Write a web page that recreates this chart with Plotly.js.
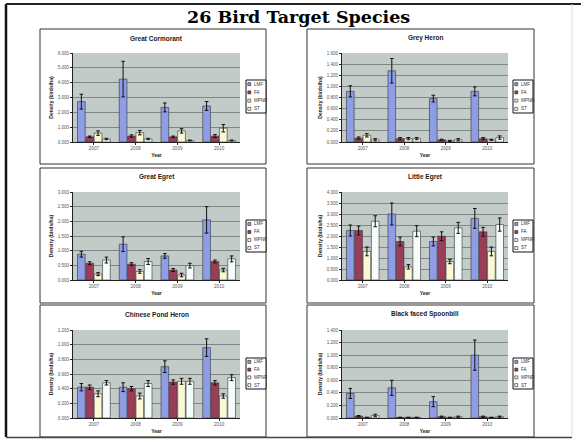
<!DOCTYPE html>
<html>
<head>
<meta charset="utf-8">
<script src="https://cdn.plot.ly/plotly-3.0.1.min.js"></script>
<style>
html,body{margin:0;padding:0;background:#fff;}
#chart{width:581px;height:440px;}
</style>
</head>
<body>
<div id="chart"></div>
<script>
// ---------------- DATA ----------------
const mainTitle = "26 Bird Target Species";
const years = ["2007", "2008", "2009", "2010"];
const seriesNames = ["LMF", "FA", "MPNR", "ST"];
const speciesNames = ["Great Cormorant", "Grey Heron", "Great Egret", "Little Egret", "Chinese Pond Heron", "Black faced Spoonbill"];
const yAxisLabel = "Density (birds/ha)";
const xAxisLabel = "Year";

// values per series: [LMF, FA, MPNR, ST], one entry per year
const cormorantValues = [[2.72, 4.24, 2.33, 2.43], [0.35, 0.40, 0.35, 0.40], [0.60, 0.63, 0.75, 0.93], [0.20, 0.20, 0.10, 0.10]];
const cormorantErrors = [[0.50, 1.20, 0.30, 0.30], [0.05, 0.08, 0.05, 0.10], [0.15, 0.15, 0.15, 0.25], [0.05, 0.05, 0.03, 0.03]];

const greyHeronValues = [[0.91, 1.28, 0.78, 0.91], [0.07, 0.06, 0.04, 0.06], [0.12, 0.06, 0.02, 0.04], [0.04, 0.06, 0.04, 0.08]];
const greyHeronErrors = [[0.10, 0.22, 0.06, 0.08], [0.02, 0.02, 0.01, 0.02], [0.03, 0.02, 0.01, 0.01], [0.02, 0.02, 0.02, 0.03]];

const greatEgretValues = [[0.88, 1.22, 0.82, 2.05], [0.57, 0.54, 0.34, 0.63], [0.20, 0.29, 0.17, 0.34], [0.68, 0.63, 0.49, 0.72]];
const greatEgretErrors = [[0.10, 0.25, 0.08, 0.45], [0.05, 0.05, 0.05, 0.05], [0.05, 0.06, 0.06, 0.06], [0.10, 0.10, 0.08, 0.10]];

const littleEgretValues = [[2.25, 3.00, 1.75, 2.80], [2.25, 1.75, 1.99, 2.19], [1.30, 0.60, 0.84, 1.30], [2.67, 2.22, 2.37, 2.52]];
const littleEgretErrors = [[0.25, 0.50, 0.20, 0.45], [0.20, 0.20, 0.20, 0.20], [0.20, 0.10, 0.10, 0.20], [0.25, 0.25, 0.25, 0.30]];

const pondHeronValues = [[0.42, 0.42, 0.70, 0.96], [0.42, 0.40, 0.49, 0.48], [0.33, 0.30, 0.50, 0.30], [0.48, 0.47, 0.50, 0.55]];
const pondHeronErrors = [[0.05, 0.06, 0.08, 0.12], [0.03, 0.03, 0.03, 0.03], [0.04, 0.04, 0.04, 0.03], [0.03, 0.04, 0.04, 0.04]];

const spoonbillValues = [[0.39, 0.48, 0.26, 1.00], [0.03, 0.01, 0.02, 0.02], [0.01, 0.01, 0.01, 0.01], [0.04, 0.01, 0.02, 0.02]];
const spoonbillErrors = [[0.08, 0.12, 0.08, 0.24], [0.01, 0.00, 0.01, 0.01], [0.00, 0.00, 0.00, 0.00], [0.02, 0.00, 0.01, 0.01]];

const yMaxima = [6, 1.6, 3, 4, 1.2, 1.4];
const yTickSteps = [1, 0.2, 0.5, 0.5, 0.2, 0.2];

// ---------------- STYLE / LAYOUT ----------------
const allValues = [cormorantValues, greyHeronValues, greatEgretValues, littleEgretValues, pondHeronValues, spoonbillValues];
const allErrors = [cormorantErrors, greyHeronErrors, greatEgretErrors, littleEgretErrors, pondHeronErrors, spoonbillErrors];
const seriesColors = ["#8e9de6", "#9a3d56", "#fbf8d6", "#f6fcfc"];

const W = 581, H = 440;
const fx = x => x / W;
const fy = y => 1 - y / H;

const plotCols = [[73, 240], [342, 508]];
const plotRows = [[53, 142], [192, 280], [330, 418]];
const frameCols = [[40, 266], [307, 534]];
const frameRows = [[29, 164], [168, 303], [305, 437]];
const legCols = [[246, 266], [513, 533]];
const legRows = [[80, 113], [220, 252], [358, 389]];
const titleRows = [38, 177, 314];

const tickFont = {family: "Liberation Sans, Arial, sans-serif", size: 4.5, color: "#555"};
const labelFont = {family: "Liberation Sans, Arial, sans-serif", size: 5, color: "#222", weight: "bold"};

const traces = [];
const shapes = [];
const annotations = [];
const layout = {
  width: W, height: H,
  margin: {l: 0, r: 0, t: 0, b: 0},
  paper_bgcolor: "#ffffff",
  plot_bgcolor: "#c3cbc9",
  barmode: "group",
  bargap: 0.2,
  bargroupgap: 0.08,
  showlegend: false,
  shapes: shapes,
  annotations: annotations
};

// slide frame
shapes.push({type: "line", xref: "paper", yref: "paper", x0: fx(6), x1: fx(6), y0: fy(4), y1: fy(437), line: {color: "#111", width: 2.5}});
shapes.push({type: "line", xref: "paper", yref: "paper", x0: fx(6), x1: fx(581), y0: fy(4), y1: fy(4), line: {color: "#222", width: 2}});
shapes.push({type: "line", xref: "paper", yref: "paper", x0: fx(6), x1: fx(572), y0: fy(437.5), y1: fy(437.5), line: {color: "#444", width: 1.5}});
shapes.push({type: "line", xref: "paper", yref: "paper", x0: fx(572), x1: fx(572), y0: fy(4), y1: fy(437), line: {color: "#ddd", width: 1}});

annotations.push({
  text: mainTitle, xref: "paper", yref: "paper", x: fx(298), y: fy(17),
  xanchor: "center", yanchor: "middle", showarrow: false,
  font: {family: "DejaVu Serif, serif", size: 17.5, color: "#000", weight: "bold"}
});

for (let i = 0; i < 6; i++) {
  const col = i % 2, row = Math.floor(i / 2);
  const xid = i === 0 ? "x" : "x" + (i + 1);
  const yid = i === 0 ? "y" : "y" + (i + 1);
  const xkey = i === 0 ? "xaxis" : "xaxis" + (i + 1);
  const ykey = i === 0 ? "yaxis" : "yaxis" + (i + 1);

  layout[xkey] = {
    domain: [fx(plotCols[col][0]), fx(plotCols[col][1])],
    anchor: yid, type: "category",
    tickfont: tickFont, showline: true, linecolor: "#222", linewidth: 1,
    ticks: "outside", ticklen: 2, tickcolor: "#222",
    title: {text: xAxisLabel, font: labelFont, standoff: 3},
    showgrid: false, zeroline: false, fixedrange: true
  };
  layout[ykey] = {
    domain: [fy(plotRows[row][1]), fy(plotRows[row][0])],
    anchor: xid, range: [0, yMaxima[i]], dtick: yTickSteps[i], tick0: 0,
    tickformat: ".3f", tickfont: tickFont,
    showgrid: true, gridcolor: "#6d7573", gridwidth: 0.8,
    showline: true, linecolor: "#222", linewidth: 1,
    ticks: "outside", ticklen: 2, tickcolor: "#222",
    title: {text: yAxisLabel, font: labelFont, standoff: 4},
    zeroline: false, fixedrange: true
  };

  for (let s = 0; s < 4; s++) {
    traces.push({
      type: "bar", name: seriesNames[s], x: years, y: allValues[i][s],
      xaxis: xid, yaxis: yid,
      marker: {color: seriesColors[s], line: {color: "#333", width: 0.6}},
      error_y: {type: "data", array: allErrors[i][s], visible: true, color: "#111", thickness: 1, width: 1.8},
      showlegend: false, hoverinfo: "skip"
    });
  }

  // panel frame
  shapes.push({type: "rect", xref: "paper", yref: "paper",
    x0: fx(frameCols[col][0]), x1: fx(frameCols[col][1]),
    y0: fy(frameRows[row][1]), y1: fy(frameRows[row][0]),
    line: {color: "#333", width: 1}, layer: "below"});

  // panel title
  annotations.push({
    text: speciesNames[i], xref: "paper", yref: "paper",
    x: fx((plotCols[col][0] + plotCols[col][1]) / 2), y: fy(titleRows[row]),
    xanchor: "center", yanchor: "middle", showarrow: false,
    font: {family: "Liberation Sans, Arial, sans-serif", size: 6.5, color: "#1a1a1a", weight: "bold"}
  });

  // legend box
  const lx0 = legCols[col][0], lx1 = legCols[col][1];
  const ly0 = legRows[row][0], ly1 = legRows[row][1];
  shapes.push({type: "rect", xref: "paper", yref: "paper",
    x0: fx(lx0), x1: fx(lx1), y0: fy(ly1), y1: fy(ly0),
    fillcolor: "#fff", line: {color: "#111", width: 1}});
  const step = (ly1 - ly0) / 4;
  for (let s = 0; s < 4; s++) {
    const cy = ly0 + step * (s + 0.5);
    shapes.push({type: "rect", xref: "paper", yref: "paper",
      x0: fx(lx0 + 1.8), x1: fx(lx0 + 4.8), y0: fy(cy + 1.5), y1: fy(cy - 1.5),
      fillcolor: seriesColors[s], line: {color: "#222", width: 0.6}});
    annotations.push({
      text: seriesNames[s], xref: "paper", yref: "paper",
      x: fx(lx0 + 5.8), y: fy(cy), xanchor: "left", yanchor: "middle", showarrow: false,
      font: {family: "Liberation Sans, Arial, sans-serif", size: 4.5, color: "#333"}
    });
  }
}

Plotly.newPlot("chart", traces, layout, {staticPlot: true, displayModeBar: false});
</script>
</body>
</html>
